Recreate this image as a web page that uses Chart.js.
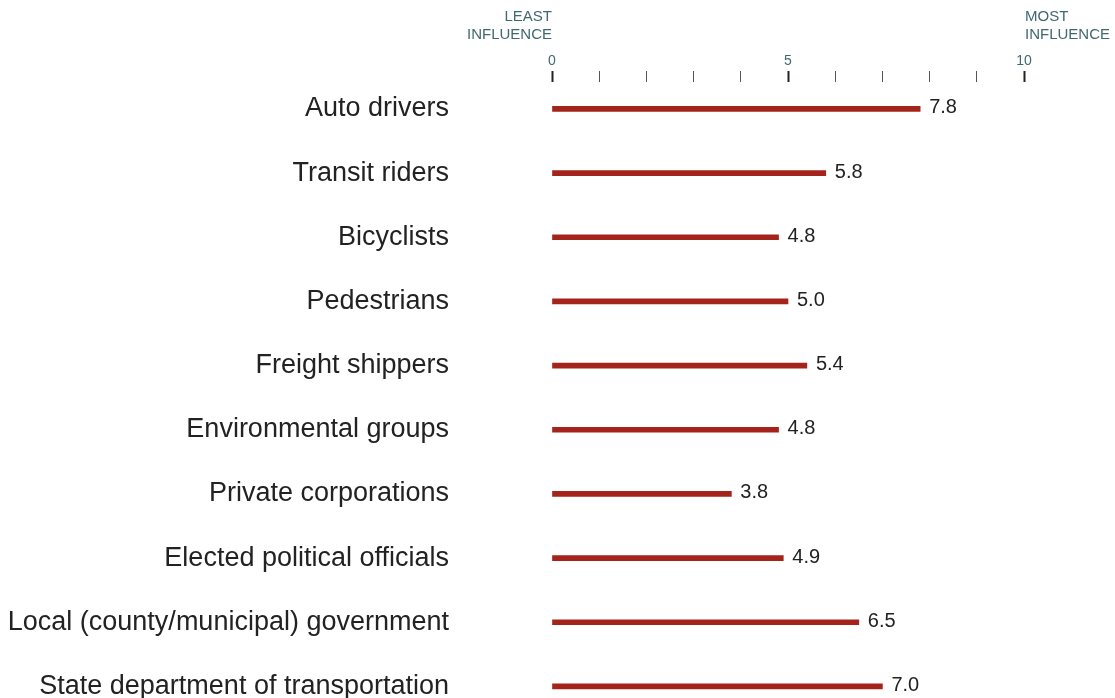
<!DOCTYPE html>
<html>
<head>
<meta charset="utf-8">
<script src="https://cdn.jsdelivr.net/npm/chart.js@4"></script>
<style>
  html, body { margin: 0; padding: 0; background: #fff; overflow: hidden; }
  canvas { display: block; }
</style>
</head>
<body>
<canvas id="influenceChart" width="1115" height="698"></canvas>
<script>
const groups = [
    'Auto drivers',
    'Transit riders',
    'Bicyclists',
    'Pedestrians',
    'Freight shippers',
    'Environmental groups',
    'Private corporations',
    'Elected political officials',
    'Local (county/municipal) government',
    'State department of transportation'
];
const influence = [7.8, 5.8, 4.8, 5.0, 5.4, 4.8, 3.8, 4.9, 6.5, 7.0];
const shownTicks = [0, 5, 10];
const scaleEnds = { low: ['LEAST', 'INFLUENCE'], high: ['MOST', 'INFLUENCE'] };

const FONT = '"Liberation Sans", Arial, Helvetica, sans-serif';
const TEAL = '#3f6870';
const BAR_RED = '#a4231b';

// value labels at the end of each bar
const valueLabels = {
    id: 'valueLabels',
    afterDatasetsDraw(chart) {
        const ctx = chart.ctx;
        const meta = chart.getDatasetMeta(0);
        ctx.save();
        ctx.font = '20px ' + FONT;
        ctx.fillStyle = '#222';
        ctx.textAlign = 'left';
        ctx.textBaseline = 'middle';
        meta.data.forEach((bar, i) => {
            ctx.fillText(influence[i].toFixed(1), bar.x + 9, bar.y - 1);
        });
        ctx.restore();
    }
};

// "least / most influence" captions above the ends of the scale
const endCaptions = {
    id: 'endCaptions',
    afterDraw(chart) {
        const ctx = chart.ctx;
        const x = chart.scales.x;
        ctx.save();
        ctx.font = '15px ' + FONT;
        ctx.fillStyle = TEAL;
        ctx.textBaseline = 'middle';
        ctx.textAlign = 'right';
        scaleEnds.low.forEach((t, i) => ctx.fillText(t, x.getPixelForValue(0), 17 + i * 18));
        ctx.textAlign = 'left';
        scaleEnds.high.forEach((t, i) => ctx.fillText(t, x.getPixelForValue(10) + 1, 17 + i * 18));
        ctx.restore();
    }
};

const ctx = document.getElementById('influenceChart').getContext('2d');
const chart = new Chart(ctx, {
    type: 'bar',
    data: {
        datasets: [{
            data: influence.map((v, i) => ({ x: v, y: i })),
            backgroundColor: BAR_RED,
            barThickness: 5,
            borderWidth: 0,
            clip: false
        }]
    },
    options: {
        indexAxis: 'y',
        responsive: false,
        devicePixelRatio: 1,
        animation: false,
        layout: { padding: { top: 52, right: 91, bottom: 0, left: 0 } },
        plugins: { legend: { display: false }, tooltip: { enabled: false } },
        scales: {
            x: {
                type: 'linear',
                position: 'top',
                min: 0,
                max: 10,
                border: { display: false },
                grid: {
                    drawOnChartArea: false,
                    drawTicks: true,
                    tickLength: 11,
                    tickWidth: c => (c.tick && c.tick.value % 5 === 0 ? 2 : 1),
                    tickColor: c => (c.tick && c.tick.value % 5 === 0 ? '#222' : '#555')
                },
                afterFit: s => { s.height = 30; },
                ticks: {
                    stepSize: 1,
                    padding: 1,
                    autoSkip: false,
                    maxRotation: 0,
                    color: TEAL,
                    font: { family: FONT, size: 14 },
                    callback: v => (shownTicks.includes(v) ? String(v) : '')
                }
            },
            y: {
                type: 'linear',
                reverse: true,
                offset: false,
                min: -0.42,
                max: 9.18,
                border: { display: false },
                grid: { display: false, offset: false },
                afterBuildTicks: s => { s.ticks = groups.map((_, i) => ({ value: i })); },
                afterFit: s => { s.width = 552; s.paddingTop = 0; s.paddingBottom = 0; },
                ticks: {
                    padding: 95,
                    autoSkip: false,
                    color: '#222',
                    font: { family: FONT, size: 27 },
                    callback: v => groups[v]
                }
            }
        }
    },
    plugins: [valueLabels, endCaptions]
});
</script>
</body>
</html>
